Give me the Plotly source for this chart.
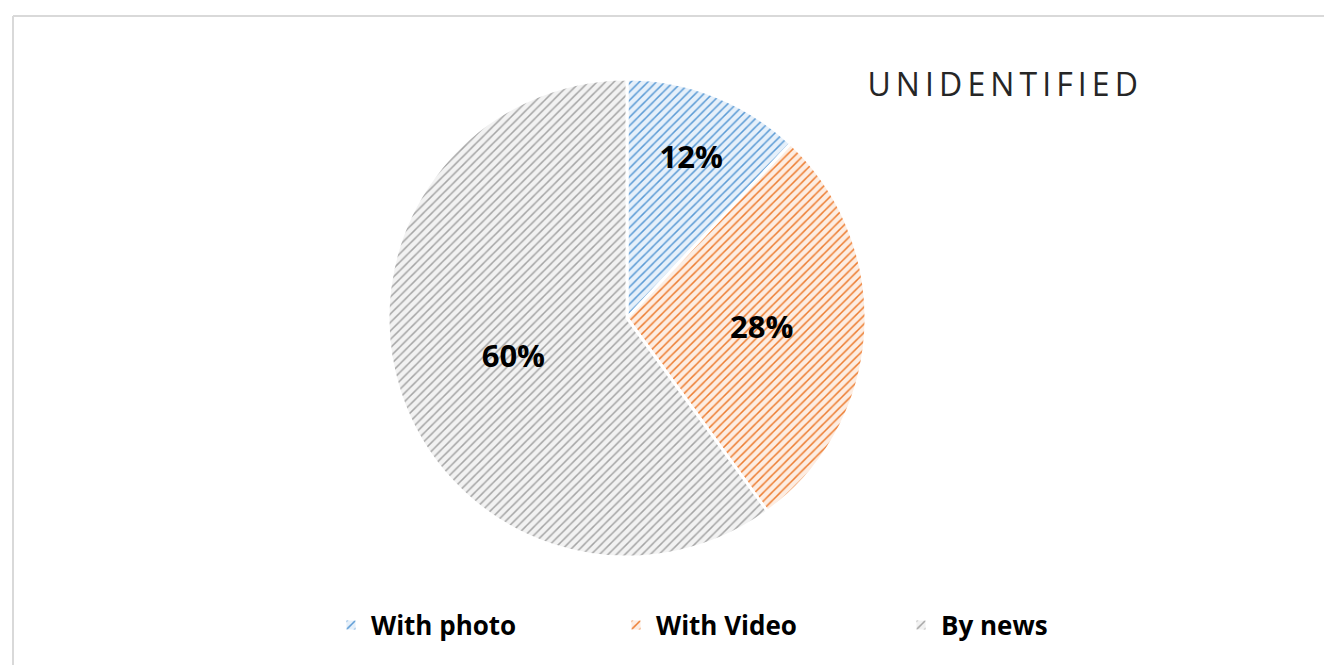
import plotly.graph_objects as go

labels = ["With photo", "With Video", "By news"]
values = [12, 28, 60]
line_colors = ["#5B9BD5", "#ED7D31", "#A5A5A5"]
bg_colors = ["#E6F0FA", "#FDEDE2", "#F2F2F2"]
title_text = "UNIDENTIFIED"

W, H = 1324, 665
cx, cy, r = 627, 318, 239
FONT = "Open Sans"

fig = go.Figure(go.Pie(
    labels=labels,
    values=values,
    sort=False,
    direction="clockwise",
    rotation=0,
    marker=dict(
        colors=line_colors,
        line=dict(color="white", width=3),
        pattern=dict(shape="/", fgcolor=line_colors, bgcolor=bg_colors,
                     size=6, solidity=0.25, fillmode="replace"),
    ),
    texttemplate="<b>%{percent:.0%}</b>",
    textposition="inside",
    insidetextorientation="horizontal",
    textfont=dict(family=FONT, size=31, color="black"),
    hoverinfo="label+percent",
    domain=dict(x=[(cx - r) / W, (cx + r) / W], y=[1 - (cy + r) / H, 1 - (cy - r) / H]),
))

fig.update_layout(
    width=W, height=H,
    margin=dict(l=0, r=0, t=0, b=0),
    paper_bgcolor="white",
    plot_bgcolor="white",
    showlegend=True,
    legend=dict(
        orientation="h",
        x=331 / W, xanchor="left",
        y=1 - 625 / H, yanchor="middle",
        font=dict(family=FONT, size=26, color="black", weight="bold"),
        entrywidth=240,
        itemwidth=30,
    ),
    annotations=[dict(
        text=title_text, x=1005 / W, y=1 - 84 / H, xref="paper", yref="paper",
        xanchor="center", yanchor="middle", showarrow=False,
        font=dict(family=FONT, size=32, color="#262626"),
    )],
    shapes=[
        dict(type="line", xref="paper", yref="paper",
             x0=13 / W, x1=1.02, y0=1 - 16 / H, y1=1 - 16 / H,
             line=dict(color="#D9D9D9", width=2), layer="below"),
        dict(type="line", xref="paper", yref="paper",
             x0=13 / W, x1=13 / W, y0=-0.02, y1=1 - 16 / H,
             line=dict(color="#D9D9D9", width=2), layer="below"),
    ],
)

post = """
document.body.style.margin = '0';
var gd = document.getElementById('{plot_id}');
gd.querySelectorAll('.annotation-text').forEach(function (t) {
  t.style.letterSpacing = '5.1px';
});
"""

fig.write_html("out.html", post_script=post, config={"displayModeBar": False})
